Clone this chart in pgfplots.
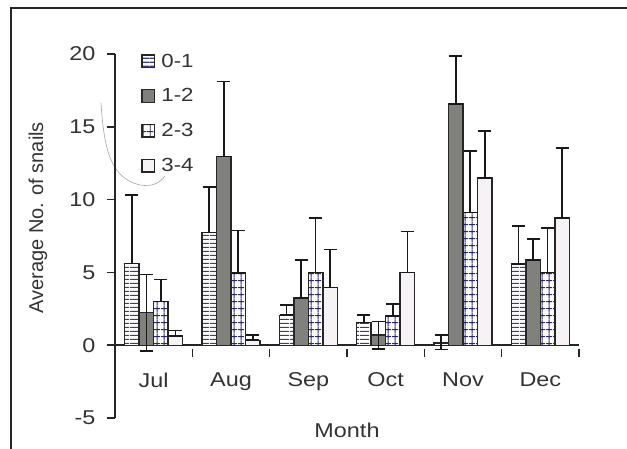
\documentclass[border=0pt]{standalone}
\usepackage{fontspec}
\setmainfont{Liberation Sans}
\usepackage{graphicx}
\usepackage{pgfplots}
\pgfplotsset{compat=1.18}
\usepackage{pgfplotstable}
\usetikzlibrary{patterns}
\newcommand\hs[1]{\scalebox{1.17}[1]{#1}}
\definecolor{linec}{RGB}{60,60,130}
\definecolor{gridc}{RGB}{40,40,110}
\definecolor{grayf}{RGB}{128,128,124}
\definecolor{lightf}{RGB}{246,242,246}

\pgfdeclarepatternformonly{hlines}{\pgfpointorigin}{\pgfpoint{10pt}{4pt}}{\pgfpoint{10pt}{4pt}}{%
  \pgfsetlinewidth{1.5pt}\pgfpathmoveto{\pgfpoint{0pt}{2pt}}\pgfpathlineto{\pgfpoint{10pt}{2pt}}\pgfusepath{stroke}}
\pgfdeclarepatternformonly{gridp}{\pgfpointorigin}{\pgfpoint{7pt}{6.8pt}}{\pgfpoint{7pt}{6.8pt}}{%
  \pgfsetlinewidth{1.0pt}\pgfpathmoveto{\pgfpoint{0pt}{3.4pt}}\pgfpathlineto{\pgfpoint{7pt}{3.4pt}}%
  \pgfpathmoveto{\pgfpoint{3.5pt}{0pt}}\pgfpathlineto{\pgfpoint{3.5pt}{6.8pt}}\pgfusepath{stroke}}

\pgfplotstableread{
x y ep em
0.5 5.6 4.7 0
1.5 7.75 3.1 0
2.5 2.06 0.7 0
3.5 1.56 0.5 0
4.5 0.16 0.55 0.45
5.5 5.57 2.6 0
}\dA
\pgfplotstableread{
x y ep em
0.5 2.25 2.6 2.65
1.5 12.95 5.15 0
2.5 3.25 2.6 0
3.5 0.69 0.95 0.95
4.5 16.56 3.3 0
5.5 5.84 1.45 0
}\dB
\pgfplotstableread{
x y ep em
0.5 3.0 1.5 0
1.5 4.97 2.9 0
2.5 5.0 3.75 0
3.5 2.02 0.8 0
4.5 9.12 4.2 0
5.5 5.0 3.05 0
}\dC
\pgfplotstableread{
x y ep em
0.5 0.62 0.4 0
1.5 0.34 0.35 0
2.5 3.96 2.6 0
3.5 5.0 2.8 0
4.5 11.5 3.2 0
5.5 8.75 4.8 0
}\dD

\begin{document}
\begin{tikzpicture}
\useasboundingbox (0pt,0pt) rectangle (627pt,448pt);
\fill[white] (0pt,0pt) rectangle (627pt,448pt);
\draw[line width=1.5pt, black!85] (11pt,-10pt) -- (11pt,440pt) -- (640pt,440pt);
\draw[gray!70, line width=0.6pt] (101pt,345pt) .. controls (104pt,300pt) and (110pt,270pt) .. (140pt,263pt) .. controls (152pt,261pt) and (160pt,265pt) .. (165pt,272pt);
\begin{axis}[
  scale only axis, width=464pt, height=364pt,
  at={(115pt,30pt)}, anchor=south west,
  xmin=0, xmax=6, ymin=-5, ymax=20,
  axis y line=left, axis x line=middle,
  axis line style={-, line width=1.5pt, black!85},
  every tick/.style={line width=1.5pt, black!85},
  ybar=0pt, bar width=14.5pt,
  xtick={0.5,1.5,2.5,3.5,4.5,5.5},
  xticklabels={\hs{Jul},\hs{Aug},\hs{Sep},\hs{Oct},\hs{Nov},\hs{Dec}},
  major x tick style={draw=none},
  minor xtick={1,2,3,4,5,6},
  minor tick length=8pt,
  x tick style={yshift=-4pt},
  ytick={-5,0,5,10,15,20},
  yticklabels={\hs{-5},\hs{0},\hs{5},\hs{10},\hs{15},\hs{20}},
  y tick style={xshift=-4pt},
  major tick length=8pt,
  xticklabel style={yshift=-16pt, font=\fontsize{20}{24}\selectfont, text=black!80},
  yticklabel style={xshift=-12pt, font=\fontsize{20}{24}\selectfont, text=black!80},
  xlabel={\hs{Month}},
  xlabel style={at={(axis description cs:0.5,0)}, anchor=north, yshift=-1pt, font=\fontsize{20}{24}\selectfont, text=black!80},
  ylabel={Average No. of snails},
  ylabel style={at={(axis description cs:-0.166,0.55)}, anchor=center, rotate=0, font=\fontsize{20}{24}\selectfont, text=black!80},
  legend style={draw=none, fill=none, at={(axis description cs:0.05,1.012)}, anchor=north west,
    font=\fontsize{19}{22}\selectfont, text=black!80, row sep=16pt, cells={anchor=west},
    nodes={inner xsep=6pt}},
  legend image code/.code={\draw[#1] (0pt,-6.3pt) rectangle (12.6pt,6.3pt);},
  error bars/y dir=both, error bars/y explicit,
  error bars/error bar style={line width=1.6pt, black!90},
  error bars/error mark options={rotate=90, mark size=6.5pt, line width=1.6pt, black!90},
]
\addplot[draw=black!85, line width=1.4pt, fill=white, postaction={pattern=hlines, pattern color=linec}]
  table[x=x, y=y, y error plus=ep, y error minus=em] {\dA};
\addplot[draw=black!85, line width=1.4pt, fill=grayf]
  table[x=x, y=y, y error plus=ep, y error minus=em] {\dB};
\addplot[draw=black!85, line width=1.4pt, fill=white, postaction={pattern=gridp, pattern color=gridc}]
  table[x=x, y=y, y error plus=ep, y error minus=em] {\dC};
\addplot[draw=black!85, line width=1.4pt, fill=lightf]
  table[x=x, y=y, y error plus=ep, y error minus=em] {\dD};
\legend{\hs{0-1},\hs{1-2},\hs{2-3},\hs{3-4}}
\end{axis}
\end{tikzpicture}
\end{document}
